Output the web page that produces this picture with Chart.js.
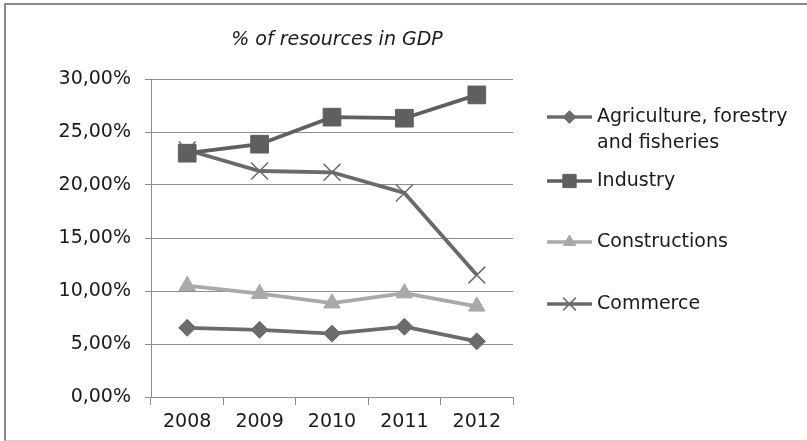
<!DOCTYPE html>
<html lang="en">
<head>
    <meta charset="UTF-8">
    <title>% of resources in GDP</title>
    <script src="https://cdn.jsdelivr.net/npm/chart.js"></script>
    <style>
        html, body { margin: 0; background: #fff; overflow: hidden; }
        .wrap { position: relative; width: 807px; height: 441px; overflow: hidden; }
        canvas { display: block; }
        .frame {
            position: absolute; left: 4px; top: 3px; width: 801px; height: 435px;
            border-left: 2px solid #8a8a8a; border-top: 2px solid #8a8a8a;
            border-bottom: 1px solid #cfcfcf; pointer-events: none;
        }
    </style>
</head>
<body>
<div class="wrap">
    <canvas id="chart" width="807" height="441"></canvas>
    <div class="frame"></div>
</div>
<script>
    const chartTitle = "% of resources in GDP";
    const years = ["2008", "2009", "2010", "2011", "2012"];
    const yTicks = [0, 0.05, 0.10, 0.15, 0.20, 0.25, 0.30];

    const agriculture = [0.0653, 0.0634, 0.0598, 0.0663, 0.0525];
    const industry = [0.2300, 0.2385, 0.2640, 0.2630, 0.2850];
    const constructions = [0.1050, 0.0975, 0.0885, 0.0980, 0.0855];
    const commerce = [0.2330, 0.2132, 0.2120, 0.1925, 0.1150];

    const FONT = "'DejaVu Sans', sans-serif";

    function series(label, data, color, style, radius, markerBorder) {
        return {
            label: label,
            data: data,
            borderColor: color,
            backgroundColor: color,
            borderWidth: 3.8,
            pointStyle: style,
            pointRadius: radius,
            pointBorderWidth: markerBorder,
            pointBorderColor: color,
            pointBackgroundColor: color,
            tension: 0
        };
    }

    const datasets = [
        series("Agriculture, forestry and fisheries", agriculture, "#6b6b6b", "rectRot", 8.5, 1),
        series("Industry", industry, "#5f5f5f", "rect", 12.5, 1),
        series("Constructions", constructions, "#a9a9a9", "triangle", 9.5, 1),
        series("Commerce", commerce, "#6a6a6a", "crossRot", 12, 1.5)
    ];

    // title and line-with-marker legend, drawn straight onto the canvas
    const sideLegend = {
        id: "sideLegend",
        afterDraw(chart) {
            const ctx = chart.ctx;
            ctx.save();
            ctx.fillStyle = "#1a1a1a";
            ctx.font = "italic 19px " + FONT;
            ctx.textAlign = "center";
            ctx.textBaseline = "middle";
            ctx.fillText(chartTitle, 337, 40);

            const rowY = [117, 181, 242, 304];
            const lineH = 26;
            ctx.font = "19px " + FONT;
            ctx.textAlign = "left";
            chart.data.datasets.forEach((ds, i) => {
                const y = rowY[i];
                ctx.strokeStyle = ds.borderColor;
                ctx.lineWidth = 3.5;
                ctx.beginPath();
                ctx.moveTo(547, y);
                ctx.lineTo(592, y);
                ctx.stroke();
                ctx.fillStyle = ds.pointBackgroundColor;
                ctx.strokeStyle = ds.pointBorderColor;
                ctx.lineWidth = ds.pointBorderWidth;
                Chart.helpers.drawPoint(ctx, {
                    pointStyle: ds.pointStyle,
                    radius: ds.pointRadius * 0.75,
                    rotation: 0,
                    borderWidth: ds.pointBorderWidth
                }, 569.5, y);

                // simple word wrap for long labels
                const words = ds.label.split(" ");
                const lines = [];
                let cur = "";
                words.forEach(w => {
                    const test = cur ? cur + " " + w : w;
                    if (ctx.measureText(test).width > 200 && cur) {
                        lines.push(cur);
                        cur = w;
                    } else {
                        cur = test;
                    }
                });
                lines.push(cur);
                ctx.fillStyle = "#1a1a1a";
                lines.forEach((ln, k) => ctx.fillText(ln, 597, y + k * lineH));
            });
            ctx.restore();
        }
    };

    new Chart(document.getElementById("chart"), {
        type: "line",
        data: { labels: years, datasets: datasets },
        options: {
            responsive: false,
            animation: false,
            layout: { padding: { left: 5, right: 294, top: 79, bottom: 0 } },
            plugins: {
                legend: { display: false },
                title: { display: false },
                tooltip: { enabled: false }
            },
            scales: {
                x: {
                    offset: true,
                    grid: {
                        offset: true,
                        drawOnChartArea: false,
                        drawTicks: true,
                        tickLength: 8,
                        color: "#8c8c8c"
                    },
                    border: { color: "#8c8c8c", width: 1 },
                    ticks: {
                        color: "#1a1a1a",
                        font: { family: FONT, size: 19 },
                        padding: 6
                    },
                    afterFit(scale) { scale.height = 44; }
                },
                y: {
                    min: 0,
                    max: 0.30,
                    afterBuildTicks(scale) {
                        scale.ticks = yTicks.map(v => ({ value: v }));
                    },
                    grid: {
                        color: "#8c8c8c",
                        tickLength: 6,
                        lineWidth: 1
                    },
                    border: { color: "#8c8c8c", width: 1 },
                    ticks: {
                        color: "#1a1a1a",
                        font: { family: FONT, size: 19 },
                        padding: 14,
                        callback: v => (v * 100).toFixed(2).replace(".", ",") + "%"
                    },
                    afterFit(scale) { scale.width = 146; }
                }
            }
        },
        plugins: [sideLegend]
    });
</script>
</body>
</html>
